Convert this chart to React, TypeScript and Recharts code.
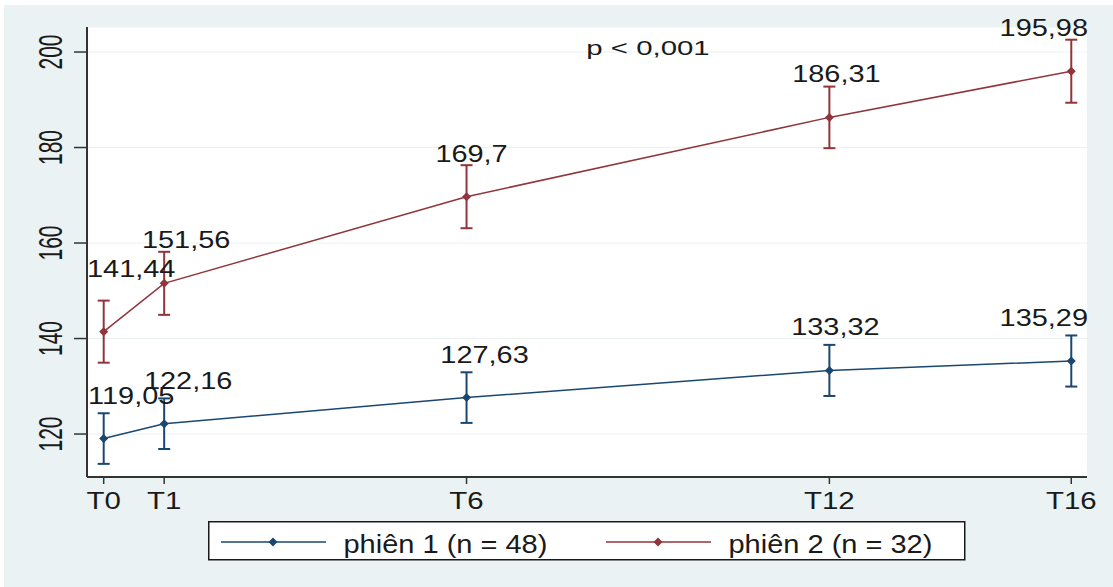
import { ComposedChart, Line, XAxis, YAxis, CartesianGrid, ErrorBar, LabelList, Legend, Customized } from 'recharts';

const times = [0, 1, 6, 12, 16];
const timeLabels = ['T0', 'T1', 'T6', 'T12', 'T16'];
const phien1Mean = [119.05, 122.16, 127.63, 133.32, 135.29];
const phien1Ci = [5.3, 5.3, 5.3, 5.35, 5.35];
const phien2Mean = [141.44, 151.56, 169.7, 186.31, 195.98];
const phien2Ci = [6.5, 6.6, 6.6, 6.45, 6.6];
const yTicks = [120, 140, 160, 180, 200];
const seriesNames = ['phiên 1 (n = 48)', 'phiên 2 (n = 32)'];
const pValueText = 'p < 0,001';

const BLUE = '#1A476F';
const RED = '#90353B';
const INK = '#1a1a1a';
const BG = '#EAF2F3';
const FONT = '"Liberation Sans", Arial, sans-serif';

const PLOT_LEFT = 87;
const PLOT_RIGHT = 1087;

// small nudges for the value labels, as placed in the original graph
const labelNudge: Record<string, number[][]> = {
  phien1: [[0, 0], [24, 0], [18, 0], [6, 0], [0, 0]],
  phien2: [[0, -20], [22, 0], [5, 0], [7, 0], [0, 0]],
};

const data = times.map((t, i) => ({
  t,
  phien1: phien1Mean[i],
  phien1Err: phien1Ci[i],
  phien2: phien2Mean[i],
  phien2Err: phien2Ci[i],
}));

const fmt = (v: number) => String(v).replace('.', ',');

function StretchText({ x, y, sx, size, children, anchor = 'middle' }: any) {
  return (
    <text
      transform={`translate(${x},${y}) scale(${sx},1)`}
      textAnchor={anchor}
      fontSize={size}
      fontFamily={FONT}
      fill={INK}
    >
      {children}
    </text>
  );
}

const diamond = (color: string) => (props: any) => {
  const { cx, cy, index } = props;
  if (cx == null || cy == null) return <g key={index} />;
  const r = 4.5;
  return (
    <polygon
      key={index}
      points={`${cx},${cy - r} ${cx + r},${cy} ${cx},${cy + r} ${cx - r},${cy}`}
      fill={color}
    />
  );
};

const valueLabel = (key: string) => (props: any) => {
  const { x, y, value, index } = props;
  const text = fmt(value);
  const size = 24.5;
  const sx = 1.18;
  const w = [...text].reduce((s, c) => s + (c === ',' ? 0.278 : 0.556), 0) * size * sx;
  const [dx, dy] = labelNudge[key][index] ?? [0, 0];
  let cx = x + dx;
  cx = Math.max(PLOT_LEFT + w / 2, Math.min(PLOT_RIGHT + 1 - w / 2, cx));
  return (
    <StretchText key={index} x={cx} y={y - 35 + dy} sx={sx} size={size}>
      {text}
    </StretchText>
  );
};

function XTick({ x, y, payload }: any) {
  const i = times.indexOf(payload.value);
  return (
    <StretchText x={x} y={y + 25} sx={1.28} size={23}>
      {timeLabels[i]}
    </StretchText>
  );
}

function YTick({ x, y, payload }: any) {
  return (
    <text
      transform={`translate(${x - 24.5},${y}) scale(1.6,1) rotate(-90)`}
      textAnchor="middle"
      dy="0.36em"
      fontSize={21}
      fontFamily={FONT}
      fill={INK}
    >
      {payload.value}
    </text>
  );
}

function LegendBox() {
  const items = [
    { name: seriesNames[0], color: BLUE, x0: 13 },
    { name: seriesNames[1], color: RED, x0: 398 },
  ];
  return (
    <svg width={758} height={40} style={{ display: 'block' }}>
      <rect x={0.75} y={0.75} width={756} height={38} fill="#fff" stroke={INK} strokeWidth={1.5} />
      {items.map((it) => (
        <g key={it.name}>
          <line x1={it.x0} x2={it.x0 + 105} y1={21} y2={21} stroke={it.color} strokeWidth={1.5} />
          <polygon
            points={`${it.x0 + 52},${16.5} ${it.x0 + 56.5},21 ${it.x0 + 52},${25.5} ${it.x0 + 47.5},21`}
            fill={it.color}
          />
          <StretchText x={it.x0 + 122.5} y={31.5} sx={1.16} size={25} anchor="start">
            {it.name}
          </StretchText>
        </g>
      ))}
    </svg>
  );
}

function PValue() {
  return (
    <StretchText x={648} y={55} sx={1.4} size={21}>
      {pValueText}
    </StretchText>
  );
}

export default function App() {
  return (
    <div style={{ position: 'absolute', left: 0, top: 0, width: 1113, height: 587, background: '#fff' }}>
      <div style={{ position: 'absolute', left: 4, top: 5, right: 0, bottom: 0, background: BG }} />
      <div style={{ position: 'absolute', left: 0, top: 0 }}>
        <ComposedChart
          width={1113}
          height={587}
          data={data}
          margin={{ top: 27, right: 26, bottom: 70, left: 0 }}
        >
          <CartesianGrid horizontal vertical={false} stroke={BG} fill="#fff" />
          <XAxis
            dataKey="t"
            type="number"
            domain={[-0.276, 16.26]}
            ticks={times}
            interval={0}
            height={40}
            tickSize={7}
            tickMargin={0}
            axisLine={{ stroke: '#333', strokeWidth: 2 }}
            tickLine={{ stroke: '#333', strokeWidth: 1.5 }}
            tick={<XTick />}
          />
          <YAxis
            type="number"
            domain={[111, 205.24]}
            ticks={yTicks}
            interval={0}
            width={87}
            tickSize={13}
            tickMargin={0}
            axisLine={{ stroke: '#333', strokeWidth: 2 }}
            tickLine={{ stroke: '#333', strokeWidth: 1.5 }}
            tick={<YTick />}
          />
          <Line
            dataKey="phien1"
            stroke={BLUE}
            strokeWidth={1.5}
            dot={diamond(BLUE)}
            activeDot={false}
            isAnimationActive={false}
          >
            <ErrorBar dataKey="phien1Err" direction="y" width={6} stroke={BLUE} strokeWidth={2} isAnimationActive={false} />
            <LabelList dataKey="phien1" content={valueLabel('phien1')} />
          </Line>
          <Line
            dataKey="phien2"
            stroke={RED}
            strokeWidth={1.5}
            dot={diamond(RED)}
            activeDot={false}
            isAnimationActive={false}
          >
            <ErrorBar dataKey="phien2Err" direction="y" width={6} stroke={RED} strokeWidth={2} isAnimationActive={false} />
            <LabelList dataKey="phien2" content={valueLabel('phien2')} />
          </Line>
          <Customized component={<PValue />} />
          <Legend
            layout="horizontal"
            verticalAlign="middle"
            align="center"
            content={() => <LegendBox />}
            wrapperStyle={{ position: 'absolute', left: 208, top: 521, width: 758, height: 40 }}
          />
        </ComposedChart>
      </div>
    </div>
  );
}
